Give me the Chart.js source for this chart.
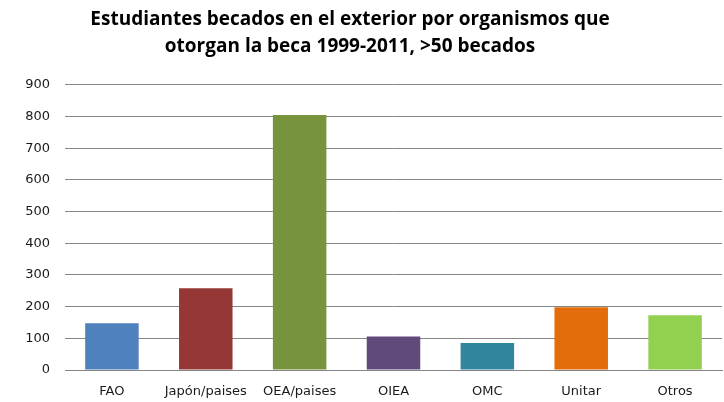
<!DOCTYPE html>
<html lang="es">
<head>
  <meta charset="UTF-8" />
  <title>Estudiantes becados en el exterior</title>
  <style>
    html, body { margin: 0; padding: 0; background: #fff; }
    #wrap { width: 724px; height: 402px; }
  </style>
</head>
<body>
  <div id="wrap"><canvas id="chart" width="724" height="402"></canvas></div>
  <script src="https://cdn.jsdelivr.net/npm/chart.js"></script>
  <script>
    const categories = ["FAO", "Japón/paises", "OEA/paises", "OIEA", "OMC", "Unitar", "Otros"];
    const becados = [148, 258, 805, 106, 85, 198, 173];
    const barColors = ["#4F81BD", "#953735", "#77933C", "#604A7B", "#31859C", "#E46C0A", "#92D050"];
    const titleLines = ["Estudiantes becados en el exterior por organismos que", "otorgan la beca 1999-2011, >50 becados"];
    const yMax = 900, yStep = 100;

    // the original title sits a little left of the canvas centre
    const titleShift = {
      id: 'titleShift',
      afterLayout(chart) {
        const t = chart.titleBlock;
        if (t) { t.left -= 11; t.right -= 11; }
      }
    };

    new Chart(document.getElementById('chart'), {
      type: 'bar',
      data: {
        labels: categories,
        datasets: [{
          data: becados,
          backgroundColor: barColors,
          borderWidth: 0,
          categoryPercentage: 1,
          barPercentage: 0.57
        }]
      },
      options: {
        responsive: false,
        animation: false,
        layout: { padding: { left: 0, right: 2, top: 6, bottom: 0 } },
        plugins: {
          legend: { display: false },
          tooltip: { enabled: false },
          title: {
            display: true,
            text: titleLines,
            color: '#000',
            font: { family: 'Open Sans', size: 19, weight: 'bold', lineHeight: 1.42 },
            padding: { top: 0, bottom: 25 }
          }
        },
        scales: {
          x: {
            grid: { display: false, drawTicks: false },
            border: { display: true, color: '#868686', width: 1 },
            ticks: {
              color: '#1a1a1a',
              font: { family: 'DejaVu Sans', size: 13 },
              padding: 14,
              maxRotation: 0
            },
            afterFit: s => { s.height = 32; }
          },
          y: {
            min: 0,
            max: yMax,
            border: { display: false },
            grid: { color: '#868686', drawTicks: false },
            ticks: {
              stepSize: yStep,
              color: '#1a1a1a',
              font: { family: 'DejaVu Sans', size: 13 },
              padding: 15
            },
            afterFit: s => { s.width = 65; }
          }
        }
      },
      plugins: [titleShift]
    });
  </script>
</body>
</html>
